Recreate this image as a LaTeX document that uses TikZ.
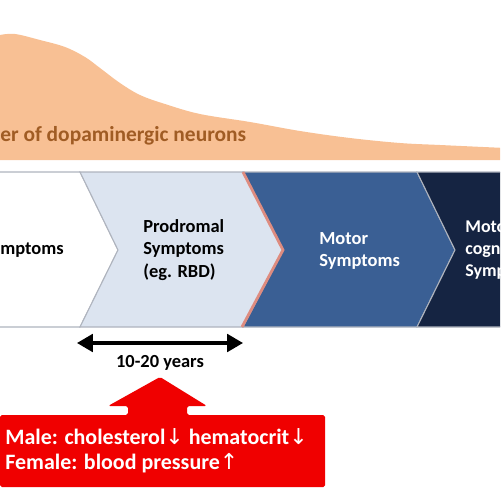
\documentclass[tikz,border=0pt]{standalone}
\usepackage{fontspec}
\setmainfont{Carlito}
\newfontfamily\arrfont{DejaVu Sans}
\usetikzlibrary{arrows.meta}
\definecolor{orangefill}{RGB}{248,192,148}
\definecolor{browntext}{RGB}{160,92,36}
\definecolor{lightblue}{RGB}{220,228,240}
\definecolor{midblue}{RGB}{58,95,148}
\definecolor{navy}{RGB}{21,36,66}
\definecolor{edgegray}{RGB}{175,180,190}
\definecolor{salmon}{RGB}{222,140,128}
\definecolor{boxred}{RGB}{240,0,0}
\tikzset{
  chev/.style={draw=edgegray, line width=0.6pt},
  lbl/.style={font=\fontsize{10.5}{12.6}\selectfont\bfseries, inner sep=0pt, anchor=west, align=left},
  wlbl/.style={lbl, text=white},
}
\begin{document}
\begin{tikzpicture}[x=0.02cm,y=-0.02cm]
\useasboundingbox (0,0) rectangle (500,500);
\begin{scope}
\clip (0,0) rectangle (500,500);
% orange mountain
\fill[orangefill] (-2,160) -- (-2,35) -- plot[smooth, tension=0.6] coordinates {(0,35) (15,34) (40,40) (65,47) (85,57) (100,68) (120,83) (140,95) (165,104) (200,114) (250,122) (300,131) (350,138) (400,143) (440,145) (505,148)} -- (505,160) -- cycle;
\node[inner sep=0pt, anchor=west, text=browntext, font=\fontsize{12.2}{15}\selectfont\bfseries] (neur) at (0,136) {er of dopaminergic neurons};
% chevrons
\filldraw[chev, fill=white] (-2,172) -- (80,172) -- (118,250) -- (80,327) -- (-2,327);
\filldraw[chev, fill=lightblue] (80,172) -- (243,172) -- (283,250) -- (243,327) -- (80,327) -- (118,250) -- cycle;
\filldraw[chev, fill=midblue] (243,172) -- (417,172) -- (455,250) -- (417,327) -- (243,327) -- (283,250) -- cycle;
\filldraw[chev, fill=navy] (417,172) -- (505,172) -- (505,327) -- (417,327) -- (455,250) -- cycle;
\draw[salmon, line width=1.6pt] (243,172) -- (283,250) -- (242,327);
\node[lbl] (pre) at (0,250) {mptoms};
\node[lbl] (prod) at (143,250) {Prodromal\\Symptoms\\(eg. RBD)};
\node[wlbl] (motor) at (319,251) {Motor\\Symptoms};
\node[wlbl, font=\fontsize{10.2}{12.6}\selectfont\bfseries] (cog) at (465,250) {Moto\\cogn\\Symp};
% double arrow
\coordinate (yl) at (77,343);
\coordinate (yr) at (243,343);
\draw[line width=1.8pt, {Triangle[length=9pt,width=10pt]}-{Triangle[length=9pt,width=10pt]}] (yl) -- (yr);
\node[inner sep=0pt, font=\fontsize{10.5}{12.6}\selectfont\bfseries] (years) at (160,363) {10-20 years};
% red block arrow and box
\fill[boxred, rounded corners=1pt] (0,415) -- (128,415) -- (128,406) -- (108,406) -- (160,377) -- (207,406) -- (187,406) -- (187,415) -- (325,415) -- (325,487) -- (0,487) -- cycle;
\node[inner sep=0pt, anchor=west, align=left, text=white, font=\fontsize{12.5}{14.4}\selectfont\bfseries] (risk) at (5,451) {Male: cholesterol{\arrfont\mdseries↓} hematocrit{\arrfont\mdseries↓}\\Female: blood pressure{\arrfont\mdseries↑}};
\end{scope}
\end{tikzpicture}
\end{document}
